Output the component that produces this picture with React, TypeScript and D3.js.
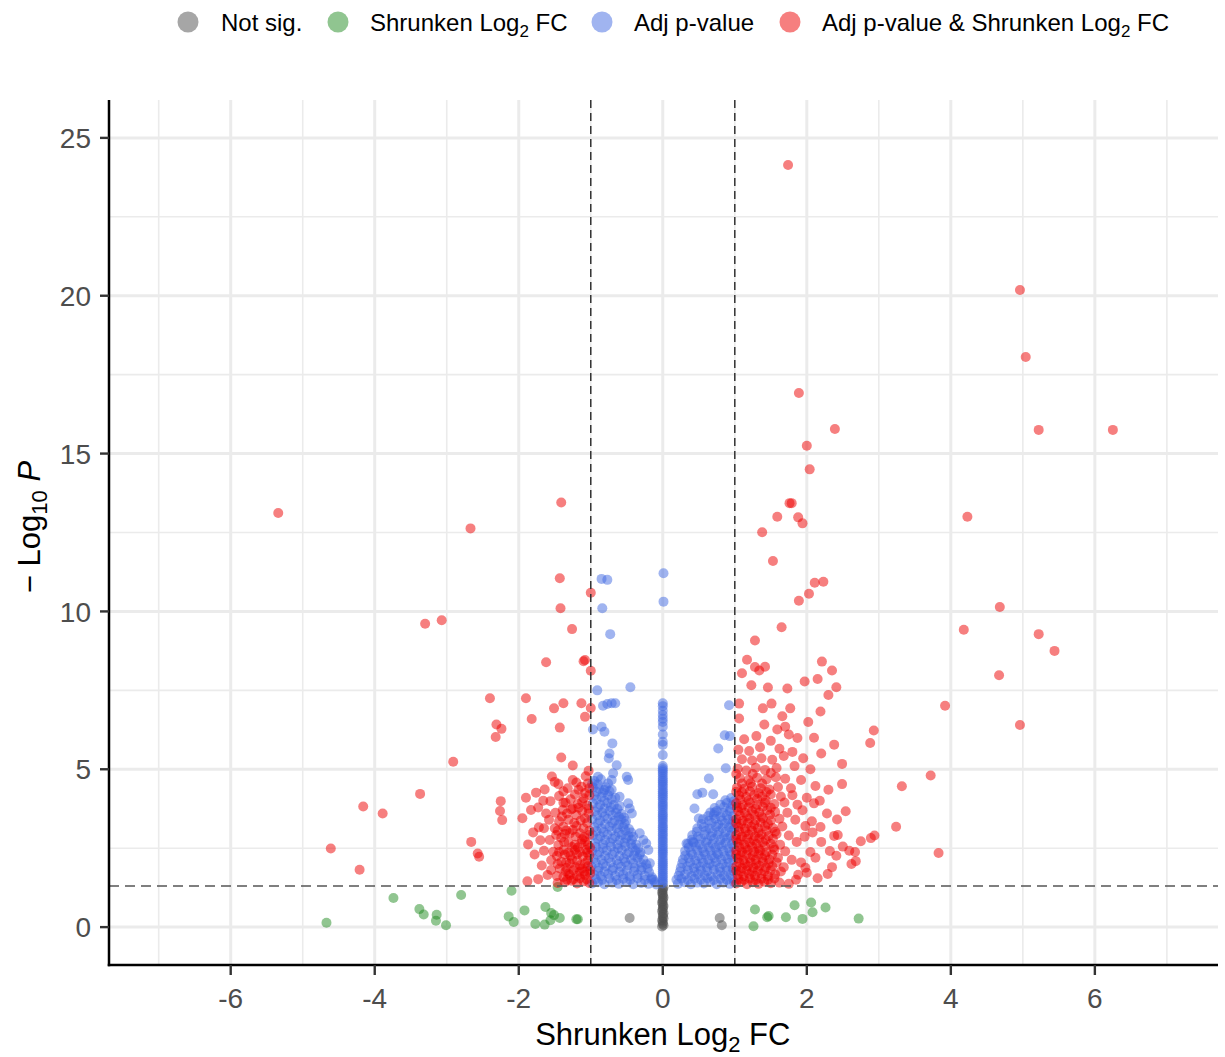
import React, { useEffect, useRef } from 'react';
import * as d3 from 'd3';

type Pt = [number, number];

// not significant (grey30)
const notSig: Pt[] = [
  [-0.01, 0.02], [0.01, 0.06], [0, 0.11], [0, 0.17], [-0.01, 0.22], [0.01, 0.28], [0, 0.33], [0, 0.39],
  [0.01, 0.44], [-0.01, 0.5], [0, 0.56], [0, 0.61], [0.01, 0.67], [0, 0.72], [-0.01, 0.78], [0, 0.83],
  [0, 0.89], [0.01, 0.94], [0, 1.0], [0, 1.05], [-0.01, 1.1], [0, 1.16], [0, 1.21], [0.01, 1.26],
  [-0.46, 0.29], [0.79, 0.29], [0.82, 0.06],
];

// shrunken log2 FC only (green)
const lfcOnly: Pt[] = [
  [-4.67, 0.14], [-3.74, 0.92], [-3.38, 0.57], [-3.32, 0.4], [-3.14, 0.39], [-3.15, 0.2], [-3.01, 0.06],
  [-2.8, 1.02], [-2.1, 1.15], [-2.14, 0.34], [-2.07, 0.16], [-1.92, 0.53], [-1.77, 0.1], [-1.64, 0.08],
  [-1.63, 0.64], [-1.55, 0.45], [-1.51, 0.38], [-1.43, 0.29], [-1.56, 0.22], [-1.46, 1.27], [-1.2, 0.25],
  [-1.18, 0.25],
  [1.28, 0.56], [1.26, 0.03], [1.45, 0.31], [1.47, 0.35], [1.71, 0.31], [1.83, 0.69], [1.94, 0.26],
  [2.06, 0.78], [2.08, 0.47], [2.26, 0.62], [2.72, 0.27],
];

// adj p-value only (blue), left cloud
const pLeft: Pt[] = [
  [-0.85, 11.03], [-0.77, 11.0], [-0.84, 10.1], [-0.73, 9.28], [-0.91, 7.5], [-0.45, 7.6], [-0.83, 7.01],
  [-0.77, 7.07], [-0.71, 7.09], [-0.66, 7.09], [-0.97, 6.26], [-0.85, 6.35], [-0.81, 6.19], [-0.7, 5.82],
  [-0.74, 5.5], [-0.75, 5.35], [-0.64, 5.13], [-0.9, 4.76], [-0.69, 4.87], [-0.71, 4.66], [-0.5, 4.76],
  [-0.48, 4.66], [-0.81, 4.34], [-0.76, 4.55], [-0.48, 3.92], [-0.46, 3.76], [-0.43, 3.6], [-0.6, 4.13],
  [-0.32, 2.97], [-0.27, 2.76], [-0.23, 2.65], [-0.2, 2.44], [-0.18, 2.02],
  [-0.98, 1.38], [-0.9, 1.42], [-0.81, 1.36], [-0.7, 1.41], [-0.61, 1.37], [-0.5, 1.43], [-0.41, 1.36],
  [-0.3, 1.4], [-0.2, 1.37], [-0.11, 1.42],
  [-0.95, 1.66], [-0.86, 1.62], [-0.76, 1.68], [-0.66, 1.63], [-0.55, 1.67], [-0.46, 1.61], [-0.35, 1.66],
  [-0.25, 1.63], [-0.15, 1.58],
  [-0.99, 1.92], [-0.89, 1.88], [-0.79, 1.93], [-0.69, 1.87], [-0.58, 1.91], [-0.49, 1.95], [-0.39, 1.88],
  [-0.29, 1.9], [-0.21, 1.86],
  [-0.96, 2.16], [-0.85, 2.13], [-0.75, 2.18], [-0.64, 2.12], [-0.54, 2.17], [-0.44, 2.14], [-0.35, 2.19],
  [-0.27, 2.13],
  [-0.98, 2.42], [-0.88, 2.38], [-0.78, 2.43], [-0.67, 2.39], [-0.57, 2.44], [-0.47, 2.37], [-0.38, 2.41],
  [-0.31, 2.36],
  [-0.94, 2.66], [-0.83, 2.63], [-0.73, 2.68], [-0.63, 2.62], [-0.53, 2.67], [-0.44, 2.64], [-0.37, 2.61],
  [-0.97, 2.91], [-0.87, 2.88], [-0.77, 2.93], [-0.66, 2.87], [-0.57, 2.92], [-0.48, 2.89], [-0.41, 2.86],
  [-0.95, 3.16], [-0.85, 3.12], [-0.74, 3.18], [-0.64, 3.13], [-0.55, 3.17], [-0.47, 3.11],
  [-0.98, 3.42], [-0.87, 3.38], [-0.77, 3.43], [-0.67, 3.37], [-0.58, 3.41], [-0.51, 3.36],
  [-0.94, 3.66], [-0.84, 3.63], [-0.74, 3.68], [-0.65, 3.62], [-0.57, 3.58],
  [-0.97, 3.92], [-0.87, 3.88], [-0.77, 3.93], [-0.68, 3.87], [-0.6, 3.84],
  [-0.95, 4.16], [-0.85, 4.12], [-0.76, 4.18], [-0.66, 4.1],
  [-0.97, 4.42], [-0.88, 4.38], [-0.79, 4.43], [-0.71, 4.36],
  [-0.95, 4.63], [-0.86, 4.68],
];

// blue, left cloud, densest part
const pLeftDense: Pt[] = [
  [-0.93, 1.52], [-0.84, 1.5], [-0.74, 1.54], [-0.64, 1.49], [-0.55, 1.53], [-0.45, 1.5], [-0.35, 1.55],
  [-0.25, 1.49], [-0.16, 1.52], [-0.09, 1.35],
  [-0.9, 1.78], [-0.81, 1.76], [-0.7, 1.8], [-0.6, 1.75], [-0.5, 1.79], [-0.4, 1.77], [-0.3, 1.81],
  [-0.19, 1.74], [-0.13, 1.5],
  [-0.93, 2.04], [-0.83, 2.01], [-0.72, 2.05], [-0.62, 2.0], [-0.52, 2.06], [-0.41, 2.02], [-0.31, 2.04],
  [-0.23, 1.99],
  [-0.91, 2.29], [-0.8, 2.26], [-0.7, 2.3], [-0.6, 2.25], [-0.5, 2.31], [-0.4, 2.27], [-0.32, 2.3],
  [-0.93, 2.54], [-0.83, 2.51], [-0.72, 2.55], [-0.62, 2.5], [-0.52, 2.56], [-0.42, 2.52], [-0.34, 2.5],
  [-0.9, 2.79], [-0.8, 2.76], [-0.7, 2.8], [-0.6, 2.75], [-0.51, 2.81], [-0.43, 2.77],
  [-0.92, 3.04], [-0.82, 3.01], [-0.71, 3.05], [-0.61, 3.0], [-0.52, 3.06], [-0.44, 3.0],
  [-0.9, 3.29], [-0.8, 3.26], [-0.7, 3.3], [-0.61, 3.25], [-0.53, 3.27],
  [-0.91, 3.54], [-0.81, 3.51], [-0.7, 3.55], [-0.61, 3.5], [-0.54, 3.47],
  [-0.9, 3.79], [-0.81, 3.76], [-0.72, 3.8], [-0.63, 3.74],
  [-0.92, 4.04], [-0.81, 4.0], [-0.71, 4.06],
  [-0.92, 4.29], [-0.83, 4.26], [-0.74, 4.3],
  [-0.9, 4.52], [-0.98, 4.55],
];

// adj p-value only (blue), column at zero
const pCentre: Pt[] = [
  [0.01, 11.21], [0.01, 10.31], [0, 7.09], [0, 7.0], [0, 6.85], [0, 6.72], [0, 6.6], [0, 6.5], [0, 6.35],
  [0, 6.1], [0, 5.87], [0, 5.77], [0, 5.45], [0, 5.1], [0, 4.97], [0, 4.85], [0, 4.7], [0, 4.58], [0, 4.45],
  [0, 4.3], [0, 4.18], [0, 4.05], [0, 3.9], [0, 3.78], [0, 3.62], [0, 3.5], [0, 3.37], [0, 3.22], [0, 3.1],
  [0, 2.96], [0, 2.83], [0, 2.7], [0, 2.55], [0, 2.42], [0, 2.3], [0, 2.15], [0, 2.02], [0, 1.9], [0, 1.76],
  [0, 1.63], [0, 1.5], [0, 1.38],
  [0, 1.44], [0, 1.57], [0, 1.7], [0, 1.83], [0, 1.96], [0, 2.08], [0, 2.22], [0, 2.36], [0, 2.48], [0, 2.62],
  [0, 2.76], [0, 2.9], [0, 3.03], [0, 3.16], [0, 3.3], [0, 3.43], [0, 3.56], [0, 3.7], [0, 3.84], [0, 3.97],
  [0, 4.11], [0, 4.24], [0, 4.37], [0, 4.51], [0, 4.64], [0, 4.77], [0, 4.91], [0, 5.03],
];

// adj p-value only (blue), right cloud
const pRight: Pt[] = [
  [0.92, 7.03], [0.86, 6.08], [0.93, 6.05], [0.77, 5.66], [0.875, 5.03], [0.64, 4.71], [0.48, 4.21],
  [0.55, 4.26], [0.7, 4.21], [0.44, 3.76], [0.5, 3.44], [0.72, 3.63], [0.95, 4.09], [0.33, 2.65], [0.42, 2.7],
  [0.21, 1.37], [0.3, 1.42], [0.39, 1.36], [0.48, 1.41], [0.57, 1.38], [0.66, 1.43], [0.75, 1.36], [0.84, 1.41],
  [0.93, 1.37], [0.99, 1.42],
  [0.22, 1.63], [0.31, 1.67], [0.4, 1.62], [0.49, 1.68], [0.58, 1.64], [0.67, 1.61], [0.76, 1.67], [0.85, 1.63],
  [0.94, 1.66],
  [0.25, 1.88], [0.34, 1.93], [0.43, 1.87], [0.52, 1.92], [0.61, 1.89], [0.7, 1.94], [0.79, 1.88], [0.88, 1.91],
  [0.97, 1.87],
  [0.28, 2.14], [0.36, 2.18], [0.45, 2.12], [0.54, 2.17], [0.63, 2.13], [0.72, 2.19], [0.81, 2.14], [0.9, 2.16],
  [0.98, 2.12],
  [0.31, 2.41], [0.39, 2.37], [0.48, 2.43], [0.57, 2.38], [0.66, 2.42], [0.75, 2.36], [0.84, 2.41], [0.93, 2.39],
  [0.35, 2.63], [0.43, 2.67], [0.51, 2.62], [0.6, 2.68], [0.69, 2.64], [0.78, 2.61], [0.87, 2.67], [0.96, 2.63],
  [0.41, 2.91], [0.49, 2.87], [0.58, 2.93], [0.67, 2.88], [0.76, 2.92], [0.85, 2.86], [0.94, 2.91],
  [0.48, 3.13], [0.57, 3.17], [0.65, 3.12], [0.74, 3.18], [0.83, 3.14], [0.92, 3.16], [0.99, 3.11],
  [0.56, 3.42], [0.64, 3.37], [0.73, 3.43], [0.82, 3.38], [0.91, 3.41], [0.98, 3.36],
  [0.66, 3.63], [0.75, 3.68], [0.84, 3.62], [0.93, 3.67],
  [0.8, 3.88], [0.89, 3.93], [0.97, 3.87],
];

// blue, right cloud, densest part
const pRightDense: Pt[] = [
  [0.19, 1.5], [0.26, 1.54], [0.35, 1.49], [0.44, 1.53], [0.53, 1.5], [0.62, 1.55], [0.71, 1.49], [0.8, 1.53],
  [0.89, 1.5], [0.97, 1.54],
  [0.24, 1.76], [0.35, 1.8], [0.44, 1.75], [0.53, 1.79], [0.62, 1.77], [0.71, 1.81], [0.8, 1.75], [0.89, 1.79],
  [0.98, 1.77],
  [0.27, 2.02], [0.38, 2.05], [0.47, 2.0], [0.56, 2.04], [0.65, 2.01], [0.74, 2.06], [0.83, 2.0], [0.92, 2.04],
  [0.31, 2.27], [0.41, 2.3], [0.5, 2.25], [0.59, 2.29], [0.68, 2.26], [0.77, 2.31], [0.86, 2.25], [0.95, 2.29],
  [0.36, 2.52], [0.46, 2.55], [0.55, 2.5], [0.64, 2.54], [0.73, 2.51], [0.82, 2.56], [0.91, 2.5], [0.99, 2.54],
  [0.4, 2.77], [0.53, 2.8], [0.62, 2.75], [0.71, 2.79], [0.8, 2.76], [0.89, 2.81], [0.98, 2.76],
  [0.47, 3.02], [0.6, 3.05], [0.69, 3.0], [0.78, 3.04], [0.87, 3.01], [0.96, 3.05],
  [0.54, 3.27], [0.68, 3.3], [0.77, 3.25], [0.86, 3.29], [0.95, 3.26],
  [0.63, 3.52], [0.71, 3.55], [0.8, 3.5], [0.89, 3.54], [0.97, 3.51],
  [0.72, 3.77], [0.85, 3.8], [0.94, 3.76],
  [0.87, 4.02], [0.99, 3.99],
];

// adj p-value & shrunken log2 FC (red), left side
const bothLeft: Pt[] = [
  [-5.34, 13.12], [-1.41, 13.45], [-2.67, 12.63], [-1.43, 11.05], [-1.42, 10.1], [-1.0, 10.59], [-1.26, 9.44],
  [-3.3, 9.61], [-3.07, 9.72], [-1.62, 8.39], [-1.1, 8.42], [-1.0, 8.12], [-1.08, 8.46], [-2.4, 7.25], [-1.9, 7.25],
  [-1.51, 6.93], [-1.38, 7.09], [-1.13, 7.09], [-1.0, 6.94], [-1.08, 6.66], [-1.82, 6.59], [-2.31, 6.42],
  [-2.24, 6.28], [-2.32, 6.02], [-1.43, 6.32], [-2.91, 5.24], [-1.41, 5.37], [-1.25, 5.12], [-3.37, 4.22],
  [-4.16, 3.82], [-3.89, 3.6], [-2.25, 3.99], [-2.26, 3.68], [-2.23, 3.39], [-4.61, 2.49], [-4.21, 1.82],
  [-2.66, 2.7], [-2.57, 2.33], [-2.55, 2.23], [-1.87, 2.62], [-1.88, 1.45], [-1.73, 1.52], [-1.54, 4.77],
  [-1.25, 4.66], [-1.5, 4.6], [-1.45, 4.53], [-1.76, 4.26], [-1.64, 4.36], [-1.07, 4.78], [-1.04, 4.55],
  [-1.44, 4.15], [-1.35, 3.94], [-1.25, 3.76], [-1.56, 3.99], [-1.38, 3.94], [-1.12, 3.97], [-1.02, 4.18],
  [-1.83, 3.71], [-1.73, 3.79], [-1.39, 3.71], [-1.27, 3.73], [-1.72, 3.16], [-1.65, 3.13], [-1.5, 3.13],
  [-1.38, 3.18], [-1.57, 2.76], [-1.41, 2.83], [-1.29, 2.97], [-1.15, 2.97], [-1.1, 3.13], [-1.65, 2.42],
  [-1.52, 2.39], [-1.38, 2.44], [-1.22, 2.44], [-1.06, 2.44], [-1.55, 2.12], [-1.41, 2.07], [-1.29, 2.02],
  [-1.15, 1.96], [-1.04, 2.12], [-1.55, 1.81], [-1.43, 1.86], [-1.31, 1.7], [-1.15, 1.75], [-1.08, 1.65],
  [-1.38, 1.59], [-1.29, 1.65], [-1.01, 1.7],
  [-1.02, 1.4], [-1.1, 1.45], [-1.19, 1.38], [-1.27, 1.47], [-1.36, 1.42], [-1.46, 1.4],
  [-1.04, 1.93], [-1.12, 1.86], [-1.21, 1.9], [-1.34, 1.88],
  [-1.02, 2.28], [-1.11, 2.24], [-1.19, 2.31], [-1.28, 2.26], [-1.36, 2.3], [-1.47, 2.25],
  [-1.04, 2.6], [-1.13, 2.66], [-1.22, 2.61], [-1.31, 2.68], [-1.45, 2.6],
  [-1.02, 2.92], [-1.09, 2.85], [-1.21, 2.87], [-1.36, 2.95], [-1.48, 2.92],
  [-1.05, 3.3], [-1.14, 3.38], [-1.23, 3.3], [-1.31, 3.4], [-1.44, 3.35], [-1.58, 3.4],
  [-1.03, 3.6], [-1.12, 3.68], [-1.2, 3.55], [-1.49, 3.62],
  [-1.05, 3.85], [-1.18, 3.9], [-1.28, 4.05],
  [-1.08, 4.25], [-1.17, 4.35], [-1.32, 4.4], [-1.03, 4.95], [-1.13, 4.45],
  [-1.6, 1.65], [-1.68, 1.95], [-1.78, 2.3], [-1.7, 2.75], [-1.8, 3.0], [-1.62, 3.6], [-1.95, 3.45],
  [-1.66, 4.0], [-1.9, 4.1],
];

// red, left side, densest part next to the cut-off
const bothLeftDense: Pt[] = [
  [-1.06, 1.52], [-1.15, 1.55], [-1.24, 1.52], [-1.33, 1.5], [-1.01, 1.8], [-1.09, 1.76], [-1.19, 1.62],
  [-1.24, 1.8], [-1.35, 1.76], [-1.47, 1.62],
  [-1.08, 2.02], [-1.19, 2.1], [-1.26, 2.15], [-1.34, 2.05], [-1.46, 2.0], [-1.05, 2.36], [-1.15, 2.38],
  [-1.31, 2.36], [-1.44, 2.38],
  [-1.01, 2.52], [-1.08, 2.72], [-1.18, 2.52], [-1.26, 2.54], [-1.37, 2.7], [-1.02, 3.05], [-1.12, 2.78],
  [-1.25, 3.08], [-1.34, 3.06], [-1.46, 3.05],
  [-1.08, 3.45], [-1.2, 3.2], [-1.4, 3.5], [-1.03, 3.75], [-1.17, 3.78], [-1.33, 3.6], [-1.1, 4.08],
  [-1.22, 4.2], [-1.38, 4.3], [-1.02, 4.4], [-1.2, 4.58],
];

// adj p-value & shrunken log2 FC (red), right side
const bothRight: Pt[] = [
  [1.74, 24.14], [4.96, 20.18], [5.04, 18.06], [1.89, 16.92], [2.39, 15.78], [5.22, 15.75], [6.25, 15.75],
  [2.0, 15.25], [2.04, 14.5], [1.76, 13.43], [1.79, 13.43], [1.59, 13.0], [1.88, 12.98], [1.94, 12.79],
  [1.38, 12.51], [1.53, 11.6], [2.11, 10.91], [2.23, 10.94], [2.03, 10.56], [1.89, 10.34], [4.23, 13.0],
  [4.18, 9.42], [4.68, 10.14], [5.22, 9.28], [5.44, 8.75], [4.67, 7.98], [4.96, 6.4], [1.65, 9.5], [1.28, 9.08],
  [1.17, 8.47], [2.21, 8.41], [2.35, 8.13], [1.1, 8.04], [1.28, 8.24], [1.34, 8.13], [1.42, 8.25], [1.23, 7.66],
  [1.46, 7.59], [1.73, 7.56], [1.97, 7.78], [2.15, 7.86], [2.41, 7.6], [2.3, 7.35], [1.06, 7.08], [1.51, 7.08],
  [1.39, 6.93], [1.77, 6.93], [2.19, 6.83], [3.92, 7.01], [1.06, 6.61], [1.66, 6.68], [2.02, 6.5], [1.41, 6.42],
  [1.7, 6.35], [1.59, 6.26], [2.93, 6.23], [2.88, 5.83], [2.38, 5.78], [1.87, 5.99], [2.49, 5.17], [2.49, 4.53],
  [2.12, 4.47], [3.32, 4.46], [3.72, 4.8], [2.54, 3.67], [2.42, 3.41], [2.19, 3.17], [3.24, 3.18], [3.83, 2.35],
  [2.94, 2.9], [2.89, 2.82], [2.75, 2.72], [2.29, 1.68], [2.68, 2.09], [2.59, 2.42], [2.67, 2.38], [2.38, 2.89],
  [2.43, 2.92], [2.41, 2.26], [2.32, 2.41],
  [1.02, 1.38], [1.09, 1.43], [1.17, 1.36], [1.25, 1.42], [1.33, 1.37], [1.41, 1.44], [1.5, 1.39], [1.62, 1.41],
  [1.75, 1.37],
  [1.04, 1.66], [1.12, 1.61], [1.2, 1.68], [1.28, 1.63], [1.37, 1.69], [1.46, 1.62], [1.56, 1.67], [1.88, 1.66],
  [1.02, 1.92], [1.1, 1.87], [1.18, 1.93], [1.26, 1.88], [1.34, 1.94], [1.43, 1.89], [1.52, 1.93], [1.68, 1.9],
  [1.98, 1.88],
  [1.04, 2.17], [1.12, 2.12], [1.21, 2.18], [1.29, 2.13], [1.38, 2.19], [1.48, 2.14], [1.6, 2.2], [1.79, 2.13],
  [1.02, 2.42], [1.1, 2.38], [1.18, 2.44], [1.27, 2.39], [1.35, 2.43], [1.44, 2.37], [1.55, 2.45], [1.7, 2.4],
  [2.05, 2.38],
  [1.04, 2.67], [1.13, 2.62], [1.21, 2.68], [1.3, 2.63], [1.39, 2.69], [1.5, 2.64], [1.63, 2.61], [1.86, 2.7],
  [1.02, 2.92], [1.1, 2.87], [1.19, 2.93], [1.28, 2.88], [1.37, 2.94], [1.47, 2.89], [1.58, 2.95], [1.75, 2.9],
  [1.97, 2.86],
  [1.05, 3.17], [1.14, 3.12], [1.23, 3.18], [1.32, 3.13], [1.42, 3.2], [1.53, 3.14], [1.66, 3.19],
  [1.02, 3.42], [1.11, 3.37], [1.2, 3.44], [1.29, 3.39], [1.39, 3.45], [1.5, 3.38], [1.62, 3.43], [1.84, 3.4],
  [2.07, 3.35],
  [1.05, 3.67], [1.14, 3.62], [1.24, 3.68], [1.34, 3.63], [1.45, 3.7], [1.56, 3.65], [1.73, 3.62], [1.94, 3.7],
  [1.02, 3.92], [1.11, 3.87], [1.21, 3.93], [1.31, 3.88], [1.42, 3.94], [1.55, 3.9], [1.69, 3.95], [1.87, 3.88],
  [2.1, 3.92],
  [1.06, 4.17], [1.16, 4.12], [1.27, 4.18], [1.38, 4.13], [1.5, 4.2], [1.64, 4.14], [1.8, 4.18], [2.0, 4.1],
  [1.03, 4.42], [1.13, 4.38], [1.24, 4.45], [1.36, 4.4], [1.48, 4.36], [1.6, 4.44], [1.78, 4.4],
  [1.07, 4.72], [1.19, 4.66], [1.31, 4.73], [1.44, 4.68], [1.57, 4.75], [1.7, 4.7], [1.92, 4.66],
  [1.04, 5.02], [1.16, 4.96], [1.29, 5.05], [1.42, 4.98], [1.58, 5.04], [1.83, 5.1], [2.05, 5.0],
  [1.1, 5.32], [1.24, 5.28], [1.37, 5.35], [1.52, 5.3], [1.68, 5.42], [1.95, 5.35],
  [1.05, 5.62], [1.2, 5.58], [1.35, 5.7], [1.62, 5.65], [1.8, 5.55], [2.2, 5.5],
  [1.13, 5.95], [1.3, 6.05], [1.5, 5.9], [1.75, 6.1], [2.1, 6.0],
  [1.85, 1.5], [2.0, 1.72], [2.15, 1.55], [1.92, 2.05], [2.12, 2.2], [2.2, 2.7], [2.08, 3.0], [2.28, 3.6],
  [1.98, 3.2], [2.18, 4.0], [2.3, 4.35], [2.35, 1.9], [2.5, 2.55], [2.62, 2.0],
];

// red, right side, densest part next to the cut-off
const bothRightDense: Pt[] = [
  [1.05, 1.52], [1.13, 1.5], [1.21, 1.54], [1.29, 1.49], [1.37, 1.53], [1.46, 1.5], [1.55, 1.54],
  [1.02, 1.79], [1.08, 1.76], [1.16, 1.8], [1.24, 1.75], [1.32, 1.79], [1.41, 1.77], [1.5, 1.8], [1.64, 1.76],
  [1.06, 2.04], [1.14, 2.01], [1.22, 2.05], [1.3, 2.0], [1.39, 2.06], [1.47, 2.02], [1.58, 2.05],
  [1.02, 2.29], [1.08, 2.27], [1.16, 2.3], [1.25, 2.26], [1.33, 2.31], [1.42, 2.27], [1.52, 2.3],
  [1.06, 2.54], [1.15, 2.51], [1.24, 2.55], [1.33, 2.5], [1.42, 2.56], [1.54, 2.52],
  [1.02, 2.79], [1.08, 2.76], [1.17, 2.8], [1.26, 2.75], [1.34, 2.81], [1.43, 2.77], [1.53, 2.8],
  [1.06, 3.04], [1.15, 3.01], [1.24, 3.05], [1.33, 3.0], [1.44, 3.06], [1.56, 3.02],
  [1.02, 3.29], [1.09, 3.27], [1.18, 3.3], [1.27, 3.25], [1.36, 3.31], [1.46, 3.27],
  [1.07, 3.54], [1.17, 3.51], [1.27, 3.55], [1.37, 3.5], [1.49, 3.56],
  [1.03, 3.79], [1.09, 3.77], [1.19, 3.8], [1.29, 3.75], [1.39, 3.81], [1.5, 3.78],
  [1.08, 4.04], [1.19, 4.01], [1.31, 4.06], [1.43, 4.02],
  [1.02, 4.29], [1.1, 4.27], [1.21, 4.3], [1.33, 4.25], [1.44, 4.28],
  [1.1, 4.55], [1.22, 4.56], [1.38, 4.55], [1.02, 4.85], [1.25, 4.85], [1.5, 4.88],
];

const xTicks = [-6, -4, -2, 0, 2, 4, 6];
const xMinor = [-7, -5, -3, -1, 1, 3, 5, 7];
const yTicks = [0, 5, 10, 15, 20, 25];
const yMinor = [2.5, 7.5, 12.5, 17.5, 22.5];
const fcCutoff = 1;
const pCutoff = 1.3;

const colours = {
  ns: '#4d4d4d',
  fc: '#228B22',
  p: '#4169E1',
  both: '#EE0000',
};

const legendItems = [
  { key: 'ns', text: 'Not sig.', sub: '', tail: '', cx: 188, tx: 221 },
  { key: 'fc', text: 'Shrunken Log', sub: '2', tail: ' FC', cx: 338, tx: 370 },
  { key: 'p', text: 'Adj p-value', sub: '', tail: '', cx: 602, tx: 634 },
  { key: 'both', text: 'Adj p-value & Shrunken Log', sub: '2', tail: ' FC', cx: 790, tx: 822 },
];

const FONT = '"Liberation Sans", Arial, Helvetica, sans-serif';

export default function App() {
  const ref = useRef<SVGSVGElement>(null);

  useEffect(() => {
    const svg = d3.select(ref.current);
    svg.selectAll('*').remove();

    const left = 109, right = 1218, top = 100, bottom = 965;
    const x = d3.scaleLinear().domain([-7.69, 7.71]).range([left, right]);
    const y = d3.scaleLinear().domain([-1.2, 26.2]).range([bottom, top]);

    const g = svg.append('g');

    // grid
    g.selectAll('.xminor').data(xMinor).enter().append('line')
      .attr('x1', d => x(d)).attr('x2', d => x(d)).attr('y1', top).attr('y2', bottom)
      .attr('stroke', '#ebebeb').attr('stroke-width', 1.6);
    g.selectAll('.yminor').data(yMinor).enter().append('line')
      .attr('x1', left).attr('x2', right).attr('y1', d => y(d)).attr('y2', d => y(d))
      .attr('stroke', '#ebebeb').attr('stroke-width', 1.6);
    g.selectAll('.xmajor').data(xTicks).enter().append('line')
      .attr('x1', d => x(d)).attr('x2', d => x(d)).attr('y1', top).attr('y2', bottom)
      .attr('stroke', '#ebebeb').attr('stroke-width', 3);
    g.selectAll('.ymajor').data(yTicks).enter().append('line')
      .attr('x1', left).attr('x2', right).attr('y1', d => y(d)).attr('y2', d => y(d))
      .attr('stroke', '#ebebeb').attr('stroke-width', 3);

    // points
    const layers: [Pt[], string][] = [
      [notSig, colours.ns],
      [lfcOnly, colours.fc],
      [pLeft, colours.p],
      [pLeftDense, colours.p],
      [pCentre, colours.p],
      [pRight, colours.p],
      [pRightDense, colours.p],
      [bothLeft, colours.both],
      [bothLeftDense, colours.both],
      [bothRight, colours.both],
      [bothRightDense, colours.both],
    ];
    layers.forEach(([pts, col]) => {
      g.append('g').selectAll('circle').data(pts).enter().append('circle')
        .attr('cx', d => x(d[0])).attr('cy', d => y(d[1])).attr('r', 5)
        .attr('fill', col).attr('fill-opacity', 0.5);
    });

    // cutoff lines
    [-fcCutoff, fcCutoff].forEach(v => {
      g.append('line').attr('x1', x(v)).attr('x2', x(v)).attr('y1', top).attr('y2', bottom)
        .attr('stroke', '#333').attr('stroke-width', 1.5).attr('stroke-dasharray', '8,5');
    });
    g.append('line').attr('x1', left).attr('x2', right).attr('y1', y(pCutoff)).attr('y2', y(pCutoff))
      .attr('stroke', '#555').attr('stroke-width', 1.5).attr('stroke-dasharray', '10,6');

    // axes
    g.append('line').attr('x1', left).attr('x2', left).attr('y1', top).attr('y2', bottom + 1.25)
      .attr('stroke', '#000').attr('stroke-width', 2.5);
    g.append('line').attr('x1', left - 1.25).attr('x2', right).attr('y1', bottom).attr('y2', bottom)
      .attr('stroke', '#000').attr('stroke-width', 2.5);

    g.selectAll('.yt').data(yTicks).enter().append('line')
      .attr('x1', left - 9).attr('x2', left).attr('y1', d => y(d)).attr('y2', d => y(d))
      .attr('stroke', '#333').attr('stroke-width', 2.4);
    g.selectAll('.ytl').data(yTicks).enter().append('text')
      .attr('x', left - 18).attr('y', d => y(d)).attr('dy', '0.36em')
      .attr('text-anchor', 'end').attr('font-family', FONT).attr('font-size', 28).attr('fill', '#4d4d4d')
      .text(d => String(d));

    g.selectAll('.xt').data(xTicks).enter().append('line')
      .attr('x1', d => x(d)).attr('x2', d => x(d)).attr('y1', bottom).attr('y2', bottom + 10)
      .attr('stroke', '#333').attr('stroke-width', 2.4);
    g.selectAll('.xtl').data(xTicks).enter().append('text')
      .attr('x', d => x(d)).attr('y', 1008)
      .attr('text-anchor', 'middle').attr('font-family', FONT).attr('font-size', 28).attr('fill', '#4d4d4d')
      .text(d => String(d));

    // axis titles
    const xt = g.append('text').attr('x', x(0)).attr('y', 1045).attr('text-anchor', 'middle')
      .attr('font-family', FONT).attr('font-size', 31).attr('fill', '#000');
    xt.append('tspan').text('Shrunken Log');
    xt.append('tspan').attr('font-size', 22).attr('dy', 7).text('2');
    xt.append('tspan').attr('dy', -7).text(' FC');

    const yt = g.append('text').attr('transform', 'translate(40, 527) rotate(-90)')
      .attr('text-anchor', 'middle').attr('font-family', FONT).attr('font-size', 31).attr('fill', '#000');
    yt.append('tspan').text('\u2212 Log');
    yt.append('tspan').attr('font-size', 22).attr('dy', 7).text('10');
    yt.append('tspan').attr('dy', -7).text(' ');
    yt.append('tspan').attr('font-style', 'italic').text('P');

    // legend
    legendItems.forEach(it => {
      g.append('circle').attr('cx', it.cx).attr('cy', 22).attr('r', 10.5)
        .attr('fill', (colours as any)[it.key]).attr('fill-opacity', 0.5);
      const t = g.append('text').attr('x', it.tx).attr('y', 31)
        .attr('font-family', FONT).attr('font-size', 24).attr('fill', '#000');
      t.append('tspan').text(it.text);
      if (it.sub) {
        t.append('tspan').attr('font-size', 17).attr('dy', 6).text(it.sub);
        t.append('tspan').attr('dy', -6).text(it.tail);
      }
    });
  }, []);

  return (
    <svg ref={ref} width={1225} height={1057}
      style={{ position: 'absolute', left: 0, top: 0, display: 'block', background: '#fff' }} />
  );
}
